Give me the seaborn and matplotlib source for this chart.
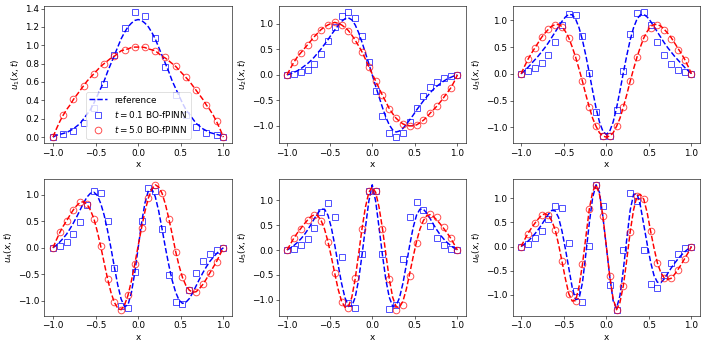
import matplotlib
matplotlib.use('Agg')
import matplotlib.pyplot as plt
from matplotlib.ticker import MultipleLocator
import seaborn as sns


# x grid of the reference curves
x_ref = [-1.00, -0.96, -0.92, -0.88, -0.84, -0.80, -0.76, -0.72, -0.68, -0.64,
         -0.60, -0.56, -0.52, -0.48, -0.44, -0.40, -0.36, -0.32, -0.28, -0.24,
         -0.20, -0.16, -0.12, -0.08, -0.04, 0.00, 0.04, 0.08, 0.12, 0.16,
         0.20, 0.24, 0.28, 0.32, 0.36, 0.40, 0.44, 0.48, 0.52, 0.56,
         0.60, 0.64, 0.68, 0.72, 0.76, 0.80, 0.84, 0.88, 0.92, 0.96, 1.00]

# x positions of the BO-fPINN samples
x_pts1 = [-1.0, -0.88, -0.76, -0.64, -0.52, -0.40, -0.28, -0.16, -0.04,
          0.08, 0.20, 0.32, 0.44, 0.56, 0.68, 0.80, 0.92, 1.0]
x_pts = [-1.00, -0.92, -0.84, -0.76, -0.68, -0.60, -0.52, -0.44, -0.36,
         -0.28, -0.20, -0.12, -0.04, 0.04, 0.12, 0.20, 0.28, 0.36, 0.44,
         0.52, 0.60, 0.68, 0.76, 0.84, 0.92, 1.00]

# ---- u1
ref1_t01 = [0.00, 0.02, 0.03, 0.04, 0.05, 0.07, 0.09, 0.12, 0.15, 0.20,
            0.25, 0.30, 0.37, 0.45, 0.53, 0.61, 0.71, 0.80, 0.89, 0.98,
            1.07, 1.14, 1.20, 1.24, 1.27, 1.28, 1.27, 1.24, 1.20, 1.14,
            1.07, 0.98, 0.89, 0.80, 0.71, 0.61, 0.53, 0.45, 0.37, 0.30,
            0.25, 0.20, 0.15, 0.12, 0.09, 0.07, 0.05, 0.04, 0.03, 0.02, 0.00]
ref1_t5 = [0.00, 0.09, 0.17, 0.24, 0.30, 0.35, 0.41, 0.46, 0.51, 0.56,
           0.61, 0.65, 0.69, 0.73, 0.77, 0.80, 0.83, 0.86, 0.88, 0.91,
           0.94, 0.95, 0.96, 0.975, 0.98, 0.98, 0.98, 0.975, 0.96, 0.95,
           0.94, 0.91, 0.88, 0.86, 0.83, 0.80, 0.77, 0.73, 0.69, 0.65,
           0.61, 0.56, 0.51, 0.46, 0.41, 0.35, 0.30, 0.24, 0.17, 0.09, 0.00]
bo1_t01 = [0.0, 0.03, 0.07, 0.15, 0.32, 0.58, 0.89, 1.19, 1.36,
           1.32, 1.08, 0.76, 0.46, 0.24, 0.11, 0.05, 0.02, 0.0]
bo1_t5 = [0.0, 0.24, 0.41, 0.56, 0.69, 0.80, 0.88, 0.95, 0.98,
          0.98, 0.94, 0.87, 0.77, 0.65, 0.51, 0.35, 0.18, 0.0]

# ---- u2
ref2_t01 = [0.00, 0.02, 0.05, 0.08, 0.12, 0.17, 0.22, 0.28, 0.35, 0.43,
            0.51, 0.60, 0.69, 0.79, 0.88, 0.97, 1.05, 1.10, 1.12, 1.08,
            0.98, 0.83, 0.64, 0.43, 0.22, 0.00, -0.22, -0.43, -0.64, -0.83,
            -0.98, -1.08, -1.12, -1.10, -1.05, -0.97, -0.88, -0.79, -0.69, -0.60,
            -0.51, -0.43, -0.35, -0.28, -0.22, -0.17, -0.12, -0.08, -0.05, -0.02, 0.00]
ref2_t5 = [0.00, 0.13, 0.25, 0.35, 0.43, 0.51, 0.59, 0.67, 0.75, 0.82,
           0.89, 0.94, 0.98, 1.01, 1.03, 1.01, 0.98, 0.93, 0.87, 0.78,
           0.68, 0.57, 0.45, 0.31, 0.16, 0.02, -0.12, -0.26, -0.40, -0.53,
           -0.66, -0.76, -0.85, -0.91, -0.96, -0.99, -1.00, -1.00, -0.98, -0.94,
           -0.89, -0.83, -0.75, -0.68, -0.61, -0.53, -0.44, -0.35, -0.26, -0.14, 0.00]
bo2_t01 = [0.0, 0.02, 0.05, 0.10, 0.21, 0.41, 0.66, 0.94, 1.16, 1.23, 1.11,
           0.77, 0.25, -0.31, -0.81, -1.13, -1.22, -1.13, -0.92, -0.65, -0.42,
           -0.24, -0.13, -0.07, -0.03, 0.0]
bo2_t5 = [0.0, 0.25, 0.43, 0.59, 0.75, 0.89, 0.98, 1.03, 0.98, 0.87, 0.68,
          0.45, 0.16, -0.12, -0.40, -0.66, -0.85, -0.96, -1.00, -0.98, -0.89,
          -0.75, -0.61, -0.44, -0.26, 0.0]

# ---- u3
ref3_t01 = [0.00, 0.06, 0.12, 0.19, 0.26, 0.33, 0.41, 0.49, 0.58, 0.68,
            0.78, 0.88, 0.98, 1.06, 1.11, 1.10, 1.02, 0.86, 0.63, 0.34,
            0.02, -0.32, -0.64, -0.90, -1.07, -1.13, -1.07, -0.90, -0.64, -0.32,
            0.02, 0.34, 0.63, 0.86, 1.02, 1.10, 1.11, 1.06, 0.98, 0.88,
            0.78, 0.68, 0.58, 0.49, 0.41, 0.33, 0.26, 0.19, 0.12, 0.06, 0.00]
ref3_t5 = [0.00, 0.14, 0.27, 0.38, 0.48, 0.58, 0.68, 0.76, 0.83, 0.89,
           0.92, 0.92, 0.88, 0.79, 0.67, 0.50, 0.31, 0.09, -0.14, -0.39,
           -0.62, -0.83, -0.98, -1.10, -1.16, -1.18, -1.16, -1.10, -0.98, -0.83,
           -0.62, -0.39, -0.14, 0.09, 0.31, 0.50, 0.67, 0.79, 0.88, 0.92,
           0.92, 0.89, 0.83, 0.76, 0.68, 0.58, 0.48, 0.38, 0.27, 0.14, 0.00]
bo3_t01 = [0.0, 0.05, 0.10, 0.20, 0.36, 0.60, 0.91, 1.12, 1.10, 0.70, 0.02,
           -0.71, -1.16, -1.16, -0.68, 0.06, 0.75, 1.14, 1.15, 0.92, 0.60,
           0.35, 0.18, 0.08, 0.03, 0.0]
bo3_t5 = [0.0, 0.27, 0.48, 0.68, 0.83, 0.92, 0.88, 0.67, 0.31, -0.14, -0.62,
          -0.98, -1.16, -1.16, -0.98, -0.61, -0.14, 0.31, 0.67, 0.86, 0.91,
          0.82, 0.65, 0.45, 0.25, 0.0]

# ---- u4
ref4_t01 = [0.00, 0.05, 0.11, 0.18, 0.26, 0.36, 0.47, 0.59, 0.72, 0.85,
            0.96, 1.03, 1.05, 0.99, 0.84, 0.62, 0.33, 0.00, -0.36, -0.70,
            -0.97, -1.11, -1.08, -0.85, -0.47, 0.00, 0.47, 0.85, 1.08, 1.11,
            0.97, 0.70, 0.36, 0.00, -0.33, -0.62, -0.84, -0.99, -1.05, -1.03,
            -0.96, -0.85, -0.72, -0.59, -0.47, -0.36, -0.26, -0.18, -0.11, -0.05, 0.00]
ref4_t5 = [0.00, 0.15, 0.29, 0.41, 0.51, 0.62, 0.72, 0.80, 0.86, 0.87,
           0.82, 0.71, 0.55, 0.31, 0.03, -0.28, -0.58, -0.84, -1.03, -1.14,
           -1.17, -1.08, -0.90, -0.63, -0.31, 0.04, 0.38, 0.69, 0.94, 1.11,
           1.19, 1.15, 1.03, 0.82, 0.55, 0.25, -0.07, -0.34, -0.56, -0.71,
           -0.80, -0.84, -0.83, -0.77, -0.69, -0.59, -0.48, -0.37, -0.26, -0.13, 0.00]
bo4_t01 = [0.0, 0.04, 0.11, 0.26, 0.48, 0.80, 1.07, 1.03, 0.50, -0.38, -1.09,
           -1.14, -0.45, 0.50, 1.13, 1.08, 0.36, -0.51, -1.03, -1.06, -0.80,
           -0.48, -0.24, -0.11, -0.04, 0.0]
bo4_t5 = [0.0, 0.29, 0.51, 0.72, 0.86, 0.82, 0.55, 0.03, -0.58, -1.03, -1.17,
          -0.90, -0.31, 0.38, 0.94, 1.19, 1.03, 0.55, -0.07, -0.56, -0.80,
          -0.83, -0.69, -0.48, -0.26, 0.0]

# ---- u5
ref5_t01 = [0.00, 0.04, 0.09, 0.15, 0.22, 0.30, 0.40, 0.51, 0.63, 0.74,
            0.82, 0.82, 0.70, 0.45, 0.10, -0.30, -0.67, -0.96, -1.12, -1.13,
            -0.95, -0.60, -0.10, 0.45, 0.98, 1.31, 0.98, 0.45, -0.10, -0.60,
            -0.95, -1.13, -1.12, -0.96, -0.67, -0.30, 0.10, 0.45, 0.70, 0.82,
            0.82, 0.74, 0.63, 0.51, 0.40, 0.30, 0.22, 0.15, 0.09, 0.04, 0.00]
ref5_t5 = [0.00, 0.12, 0.24, 0.34, 0.43, 0.52, 0.60, 0.67, 0.71, 0.69,
           0.59, 0.42, 0.17, -0.14, -0.47, -0.79, -1.03, -1.15, -1.14, -0.95,
           -0.58, -0.08, 0.43, 0.86, 1.16, 1.26, 1.16, 0.86, 0.43, -0.08,
           -0.58, -0.95, -1.14, -1.15, -1.03, -0.79, -0.47, -0.14, 0.17, 0.42,
           0.59, 0.69, 0.71, 0.67, 0.60, 0.52, 0.43, 0.34, 0.24, 0.12, 0.00]
bo5_t01 = [0.0, 0.03, 0.11, 0.23, 0.45, 0.76, 0.94, 0.66, -0.14, -1.07, -1.16,
           -0.08, 1.18, 1.18, -0.08, -1.19, -1.11, -0.18, 0.66, 0.96, 0.81,
           0.48, 0.25, 0.11, 0.03, 0.0]
bo5_t5 = [0.0, 0.24, 0.43, 0.60, 0.70, 0.59, 0.17, -0.47, -1.05, -1.16, -0.56,
          0.43, 1.18, 1.18, 0.42, -0.59, -1.20, -1.11, -0.52, 0.14, 0.60,
          0.73, 0.66, 0.47, 0.25, 0.0]

# ---- u6
ref6_t01 = [0.00, 0.05, 0.11, 0.18, 0.26, 0.35, 0.45, 0.56, 0.67, 0.75,
            0.74, 0.60, 0.32, -0.05, -0.45, -0.85, -1.10, -1.08, -0.75, -0.15,
            0.48, 1.02, 1.28, 1.12, 0.62, 0.00, -0.62, -1.12, -1.28, -1.02,
            -0.48, 0.15, 0.75, 1.08, 1.10, 0.85, 0.45, 0.05, -0.32, -0.60,
            -0.74, -0.75, -0.67, -0.56, -0.45, -0.35, -0.26, -0.18, -0.11, -0.05, 0.00]
ref6_t5 = [0.00, 0.14, 0.27, 0.38, 0.48, 0.57, 0.65, 0.68, 0.65, 0.53,
           0.35, 0.04, -0.31, -0.67, -0.98, -1.13, -1.12, -0.83, -0.37, 0.20,
           0.77, 1.14, 1.28, 1.08, 0.63, 0.02, -0.61, -1.08, -1.31, -1.16,
           -0.81, -0.28, 0.30, 0.76, 1.05, 1.08, 0.98, 0.70, 0.32, -0.03,
           -0.34, -0.54, -0.65, -0.68, -0.66, -0.58, -0.48, -0.37, -0.25, -0.13, 0.00]
bo6_t01 = [0.0, 0.06, 0.17, 0.32, 0.57, 0.84, 0.79, 0.08, -0.93, -1.14, 0.01,
           1.28, 0.84, -0.79, -1.31, -0.08, 1.11, 0.94, -0.08, -0.77, -0.86,
           -0.60, -0.34, -0.16, -0.04, 0.0]
bo6_t5 = [0.0, 0.27, 0.48, 0.65, 0.65, 0.35, -0.31, -0.98, -1.12, -0.37, 0.77,
          1.28, 0.63, -0.61, -1.31, -0.81, 0.30, 1.05, 0.98, 0.32, -0.34,
          -0.65, -0.66, -0.48, -0.25, 0.0]

panels = [
    (x_pts1, ref1_t01, ref1_t5, bo1_t01, bo1_t5),
    (x_pts, ref2_t01, ref2_t5, bo2_t01, bo2_t5),
    (x_pts, ref3_t01, ref3_t5, bo3_t01, bo3_t5),
    (x_pts, ref4_t01, ref4_t5, bo4_t01, bo4_t5),
    (x_pts, ref5_t01, ref5_t5, bo5_t01, bo5_t5),
    (x_pts, ref6_t01, ref6_t5, bo6_t01, bo6_t5),
]

DPI = 53
FS = 12
fig, axes = plt.subplots(2, 3, figsize=(706 / DPI, 349 / DPI), dpi=DPI)
fig.subplots_adjust(left=0.063, right=0.9915, top=0.983, bottom=0.0946,
                    wspace=0.249, hspace=0.256)

for i, (ax, (xp, r01, r5, b01, b5)) in enumerate(zip(axes.flat, panels)):
    first = (i == 0)
    sns.lineplot(x=x_ref, y=r01, ax=ax, color='blue', linestyle='--', lw=2,
                 label='reference' if first else None)
    sns.lineplot(x=xp, y=b01, ax=ax, color='blue', linestyle='', marker='s',
                 markersize=9, markerfacecolor='none', markeredgecolor='blue',
                 markeredgewidth=1.3, alpha=0.7,
                 label='$t = 0.1$ BO-fPINN' if first else None)
    sns.lineplot(x=x_ref, y=r5, ax=ax, color='red', linestyle='--', lw=2)
    sns.lineplot(x=xp, y=b5, ax=ax, color='red', linestyle='', marker='o',
                 markersize=9, markerfacecolor='none', markeredgecolor='red',
                 markeredgewidth=1.3, alpha=0.7,
                 label='$t = 5.0$ BO-fPINN' if first else None)
    ax.set_xlabel('x', fontsize=FS)
    ax.set_ylabel('$u_%d(x, t)$' % (i + 1), fontsize=FS)
    ax.set_xticks([-1.0, -0.5, 0.0, 0.5, 1.0])
    ax.yaxis.set_major_locator(MultipleLocator(0.2 if first else 0.5))
    ax.tick_params(labelsize=FS)
    if first:
        ax.legend(loc='lower center', fontsize=FS)
    elif ax.get_legend() is not None:
        ax.get_legend().remove()

fig.savefig('out.png', dpi=DPI)
